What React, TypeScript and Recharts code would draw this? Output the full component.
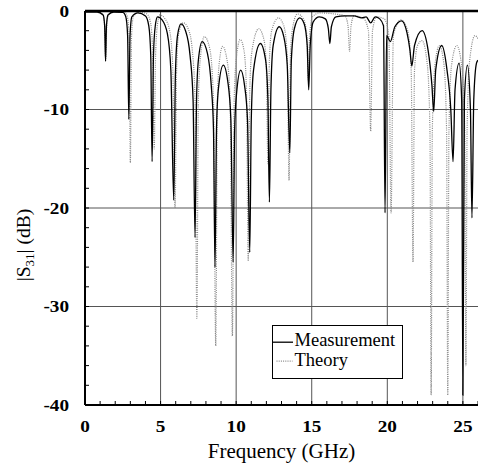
import React from 'react';
import { LineChart, Line, XAxis, YAxis, ReferenceLine, Legend } from 'recharts';

const FONT = "'Liberation Serif','Times New Roman',serif";

const xTicks = [0, 1, 2, 3, 4, 5, 6, 7, 8, 9, 10, 11, 12, 13, 14, 15, 16, 17, 18, 19, 20, 21, 22, 23, 24, 25, 26];
const xLabelTicks = [0, 5, 10, 15, 20, 25];
const yTicks = [-40, -38, -36, -34, -32, -30, -28, -26, -24, -22, -20, -18, -16, -14, -12, -10, -8, -6, -4, -2, 0];
const yLabelTicks = [-40, -30, -20, -10, 0];
const xGrid = [5, 10, 15, 20, 25];
const yGrid = [-10, -20, -30];

// [frequency GHz, |S31| dB]
const measurement: [number, number][] = [
  [0, -0.1], [0.8, -0.1], [1.2, -0.4], [1.3, -1.5], [1.36, -5.1], [1.42, -1.5], [1.52, -0.4], [1.9, -0.1],
  [2.5, -0.15], [2.7, -0.6], [2.82, -2.5], [2.9, -11], [2.98, -2.5], [3.1, -0.6], [3.5, -0.2],
  [4.0, -0.5], [4.22, -1.5], [4.35, -4.5], [4.44, -15.3], [4.53, -4.5], [4.65, -1.5], [4.8, -0.6],
  [5.1, -0.9], [5.45, -2.3], [5.68, -6], [5.87, -19.2], [5.98, -6.5], [6.12, -2.5], [6.35, -1.3],
  [6.65, -2], [6.95, -4.5], [7.15, -9], [7.28, -23], [7.38, -9], [7.5, -5], [7.75, -3.1],
  [8.1, -4.3], [8.35, -7.5], [8.5, -12], [8.6, -26], [8.7, -12], [8.82, -8], [9.15, -5.5],
  [9.45, -7.2], [9.65, -11], [9.8, -25.5], [9.9, -12], [10.02, -8.5], [10.3, -6],
  [10.55, -7.5], [10.75, -11], [10.9, -24.5], [11.0, -11], [11.15, -6], [11.6, -3.3],
  [11.95, -5], [12.1, -9], [12.2, -19.4], [12.3, -8], [12.45, -3.5], [12.85, -1.6],
  [13.15, -2.6], [13.38, -5.5], [13.55, -14.4], [13.65, -5], [13.85, -1.8], [14.2, -0.7],
  [14.5, -1.3], [14.7, -3.5], [14.8, -8], [14.9, -3.5], [15.1, -1.1], [15.5, -0.6],
  [15.9, -0.8], [16.1, -1.8], [16.2, -3.3], [16.3, -1.6], [16.6, -0.6], [17.2, -0.5],
  [17.8, -0.5], [18.3, -0.7], [18.6, -0.6], [18.9, -1.2], [19.2, -0.6], [19.5, -0.8],
  [19.75, -1.5], [19.85, -20.5], [19.95, -2.5], [20.2, -3.1], [20.5, -1.6], [20.95, -1.0],
  [21.3, -2.2], [21.5, -4], [21.62, -5.6], [21.8, -3.5], [22.3, -2.0], [22.7, -4],
  [22.95, -7.5], [23.07, -10.2], [23.2, -6], [23.6, -3.5], [23.95, -6], [24.2, -10],
  [24.35, -15.3], [24.48, -8], [24.75, -5.3], [24.92, -9], [25.0, -39], [25.1, -9],
  [25.3, -5.5], [25.5, -10], [25.6, -21], [25.72, -9], [25.9, -5.3], [26, -5.0],
];

const theory: [number, number][] = [
  [0, 0], [0.8, -0.05], [1.2, -0.4], [1.3, -1.5], [1.37, -5], [1.44, -1.5], [1.55, -0.4], [1.9, -0.05],
  [2.6, -0.1], [2.8, -0.6], [2.92, -2.5], [3.0, -15.4], [3.08, -2.5], [3.2, -0.6], [3.6, -0.1],
  [4.1, -0.3], [4.35, -1.3], [4.48, -4.5], [4.58, -14], [4.67, -4.5], [4.8, -1.3], [4.95, -0.4],
  [5.3, -0.8], [5.6, -2], [5.8, -5.5], [5.96, -20], [6.06, -6], [6.2, -2.3], [6.5, -1.2],
  [6.85, -1.9], [7.1, -4], [7.28, -9], [7.4, -31.2], [7.5, -9], [7.65, -4.5], [7.9, -2.6],
  [8.25, -3.8], [8.5, -9], [8.65, -34], [8.76, -9], [8.9, -5], [9.1, -3.6],
  [9.4, -5], [9.6, -9], [9.75, -33], [9.87, -9], [10.0, -5], [10.27, -2.9],
  [10.52, -4], [10.68, -8], [10.8, -25.4], [10.9, -8], [11.05, -4], [11.5, -1.8],
  [11.85, -3], [12.0, -6], [12.1, -15.5], [12.2, -5], [12.35, -2], [12.8, -0.7],
  [13.15, -1.5], [13.38, -4.5], [13.5, -17.2], [13.6, -4], [13.8, -1.2], [14.05, -0.3],
  [14.45, -0.8], [14.68, -2.5], [14.77, -7], [14.86, -2.5], [15.05, -0.6], [15.5, -0.2],
  [16.5, -0.3], [17.2, -0.5], [17.4, -1.5], [17.5, -4.1], [17.6, -1.5], [17.8, -0.5],
  [18.4, -0.7], [18.75, -2], [18.9, -12.2], [19.02, -2], [19.3, -0.6], [19.8, -0.8],
  [20.1, -2.5], [20.25, -20.5], [20.4, -2.5], [20.9, -0.9], [21.35, -2], [21.58, -6],
  [21.7, -25.5], [21.8, -6], [22.0, -3.5], [22.3, -3], [22.65, -5.5], [22.82, -12],
  [22.9, -39], [22.98, -12], [23.15, -5.5], [23.45, -3.5], [23.75, -5.5], [23.92, -12],
  [24.0, -39], [24.08, -12], [24.25, -5.5], [24.6, -3.5], [24.95, -6], [25.12, -12],
  [25.2, -36], [25.28, -12], [25.45, -5], [25.8, -2.5], [26, -2.8],
];

const measData = measurement.map(([f, db]) => ({ f, db }));
const theoryData = theory.map(([f, db]) => ({ f, db }));

const XTick = (props: any) => {
  const { x, y, payload } = props;
  if (!xLabelTicks.includes(payload.value)) return <g />;
  return (
    <text transform={`translate(${x},${y}) scale(1.2,1)`} textAnchor="middle" fontFamily={FONT}
      fontWeight="bold" fontSize={16} fill="#000">{payload.value}</text>
  );
};

const YTick = (props: any) => {
  const { x, y, payload } = props;
  if (!yLabelTicks.includes(payload.value)) return <g />;
  return (
    <text transform={`translate(${x},${y}) scale(1.2,1)`} textAnchor="end" dy="0.35em" fontFamily={FONT}
      fontWeight="bold" fontSize={16} fill="#000">{String(payload.value)}</text>
  );
};

const YTitle = (props: any) => {
  const vb = props.viewBox || { x: 0, y: 11, width: 85, height: 394 };
  const cx = vb.x + 30;
  const cy = vb.y + vb.height / 2 + 37;
  return (
    <text transform={`translate(${cx},${cy}) rotate(-90)`} textAnchor="middle" fontFamily={FONT}
      fontSize={19.5} fill="#000">
      |S<tspan fontSize={13} dy={4}>31</tspan><tspan dy={-4}>| (dB)</tspan>
    </text>
  );
};

const LegendBox = () => (
  <div style={{ width: 131, height: 54, boxSizing: 'border-box', border: '1.5px solid #000', background: '#fff',
    fontFamily: FONT, fontSize: 18.5, color: '#000', position: 'relative' }}>
    <svg width={24} height={50} style={{ position: 'absolute', left: 0, top: 0 }}>
      <line x1={0} x2={20} y1={16.2} y2={16.2} stroke="#000" strokeWidth={1.3} />
      <line x1={3.5} x2={19.5} y1={35.2} y2={35.2} stroke="#888" strokeDasharray="1 1.2" strokeWidth={1.2} />
    </svg>
    <div style={{ position: 'absolute', left: 21.5, top: 4.5, lineHeight: '19px', whiteSpace: 'nowrap' }}>Measurement</div>
    <div style={{ position: 'absolute', left: 21.5, top: 24.5, lineHeight: '19px', whiteSpace: 'nowrap' }}>Theory</div>
  </div>
);

export default function App() {
  return (
    <div style={{ position: 'fixed', left: 0, top: 0, width: 478, height: 469, background: '#fff' }}>
      <LineChart width={478} height={469} margin={{ top: 11, right: 0, bottom: 0, left: 0 }}>
        <XAxis dataKey="f" type="number" domain={[0, 26]} ticks={xTicks} interval={0} allowDataOverflow
          tickSize={-4} tickMargin={31} tick={<XTick />} height={64}
          axisLine={{ stroke: '#000', strokeWidth: 2 }} tickLine={{ stroke: '#000', strokeWidth: 1 }}
          label={{ value: 'Frequency (GHz)', position: 'insideBottom', offset: 11, fontFamily: FONT, fontSize: 21, fill: '#000' }} />
        <YAxis type="number" domain={[-40, 0]} ticks={yTicks} interval={0} allowDataOverflow
          tickSize={-4} tickMargin={20} tick={<YTick />} width={85}
          axisLine={{ stroke: '#000', strokeWidth: 2 }} tickLine={{ stroke: '#000', strokeWidth: 1 }}
          label={<YTitle />} />
        {xGrid.map((v) => (
          <ReferenceLine key={'gx' + v} x={v} stroke="#555" strokeWidth={1} />
        ))}
        {yGrid.map((v) => (
          <ReferenceLine key={'gy' + v} y={v} stroke="#555" strokeWidth={1} />
        ))}
        <Line data={theoryData} dataKey="db" type="monotone" stroke="#888" strokeWidth={1.2}
          strokeDasharray="1 1.2" dot={false} activeDot={false} isAnimationActive={false} name="Theory" />
        <Line data={measData} dataKey="db" type="monotone" stroke="#000" strokeWidth={1.3}
          dot={false} activeDot={false} isAnimationActive={false} name="Measurement" />
        <ReferenceLine y={0} stroke="#000" strokeWidth={2.5} />
        <Legend layout="vertical" align="center" verticalAlign="middle" content={<LegendBox />}
          wrapperStyle={{ left: 272, top: 325, width: 131, height: 54 }} />
      </LineChart>
    </div>
  );
}
